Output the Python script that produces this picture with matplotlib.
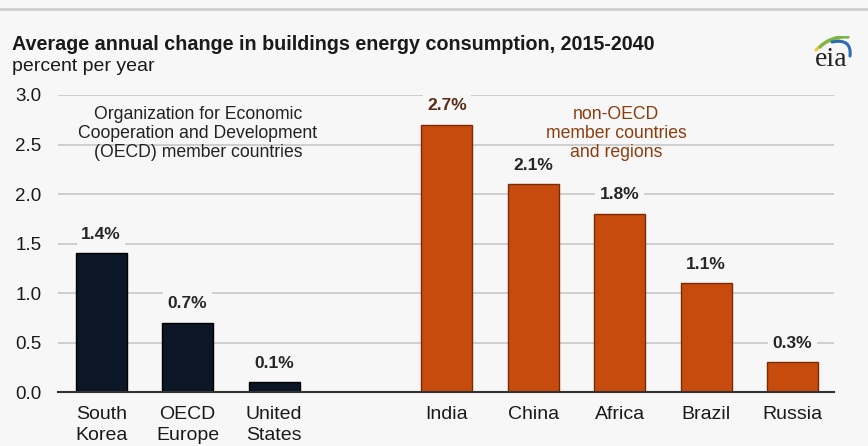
import numpy as np
import matplotlib.pyplot as plt
from matplotlib.patches import PathPatch
from matplotlib.path import Path
from matplotlib.lines import Line2D

plt.rcParams['font.family'] = ['Liberation Sans', 'DejaVu Sans']

# data
oecd_names = ["South\nKorea", "OECD\nEurope", "United\nStates"]
oecd_values = [1.4, 0.7, 0.1]
non_oecd_names = ["India", "China", "Africa", "Brazil", "Russia"]
non_oecd_values = [2.7, 2.1, 1.8, 1.1, 0.3]
yticks = [0.0, 0.5, 1.0, 1.5, 2.0, 2.5, 3.0]

bg = '#f7f7f7'
navy = '#0b1626'
orange = '#c84b0e'
brown_text = '#8c3d0c'

fig = plt.figure(figsize=(8.68, 4.46), dpi=100, facecolor=bg)
ax = fig.add_axes([0.0668, 0.121, 0.894, 0.666], facecolor=bg)

oecd_x = np.arange(len(oecd_values))
non_oecd_x = np.arange(len(non_oecd_values)) + len(oecd_values) + 1

ax.bar(oecd_x, oecd_values, width=0.59, color=navy, edgecolor='#000000',
       linewidth=1.0, zorder=3)
ax.bar(non_oecd_x, non_oecd_values, width=0.59, color=orange,
       edgecolor='#7a2a04', linewidth=1.0, zorder=3)

# value labels, boxed so they cut through the gridlines
def add_labels(xs, vals, colors):
    for x, v, c in zip(xs, vals, colors):
        ax.annotate(f"{v:.1f}%", xy=(x, v), xytext=(0, 10.5),
                    textcoords='offset points', ha='center', va='baseline',
                    fontsize=12.5, fontweight='bold', color=c, zorder=4,
                    bbox=dict(boxstyle='square,pad=0.25', fc=bg, ec='none'))

add_labels(oecd_x, oecd_values, ['#262626'] * 3)
add_labels(non_oecd_x, non_oecd_values, ['#5a2c14'] + ['#262626'] * 4)

ax.set_xlim(-0.5, 8.48)
ax.set_ylim(0, 3.0)
ax.set_yticks(yticks)
ax.set_yticklabels([f"{t:.1f}" for t in yticks])
ax.set_xticks(list(oecd_x) + list(non_oecd_x))
ax.set_xticklabels(oecd_names + non_oecd_names, linespacing=1.35)
ax.tick_params(axis='y', length=0, pad=12, labelsize=13.5, labelcolor='#1a1a1a')
ax.tick_params(axis='x', length=0, pad=10, labelsize=14, labelcolor='#1a1a1a')

ax.grid(axis='y', color='#c8c8c8', linewidth=1.2, zorder=0)
for s in ['top', 'right', 'left']:
    ax.spines[s].set_visible(False)
ax.spines['bottom'].set_color('#333333')
ax.spines['bottom'].set_linewidth(1.5)
ax.spines['bottom'].set_zorder(5)

# group captions
ax.text(1.12, 2.61, "Organization for Economic\nCooperation and Development\n(OECD) member countries",
        ha='center', va='center', fontsize=12.7, color='#222222', linespacing=1.15)
ax.text(5.96, 2.61, "non-OECD\nmember countries\nand regions",
        ha='center', va='center', fontsize=12.7, color=brown_text, linespacing=1.15)

# header
fig.add_artist(Line2D([0, 1], [1 - 9 / 446] * 2, color='#cfcfcf', linewidth=2))
fig.text(12 / 868, 1 - 50 / 446, "Average annual change in buildings energy consumption, 2015-2040",
         fontsize=14.2, fontweight='bold', color='#1a1a1a', va='baseline')
fig.text(12 / 868, 1 - 71 / 446, "percent per year", fontsize=14, color='#1a1a1a',
         va='baseline')

# eia logo: wordmark plus three swooshes
lax = fig.add_axes([805 / 868, 1 - 72 / 446, 52 / 868, 36 / 446])
lax.set_xlim(0, 52)
lax.set_ylim(0, 36)
lax.axis('off')
lax.text(26, 6, "eia", ha='center', va='baseline', fontsize=20,
         family='Liberation Serif', color='#222222')

def swoosh(p0, c, p1, color, lw):
    path = Path([p0, c, p1], [Path.MOVETO, Path.CURVE3, Path.CURVE3])
    lax.add_patch(PathPatch(path, fc='none', ec=color, lw=lw, capstyle='round'))

swoosh((11, 22), (20, 32), (35, 34), '#f2c230', 2.2)
swoosh((15, 25), (25, 36), (43, 35), '#7ab648', 2.4)
swoosh((27, 30), (47, 34), (45, 16), '#2a6cb5', 2.2)

fig.savefig('out.png', dpi=100, facecolor=bg)
